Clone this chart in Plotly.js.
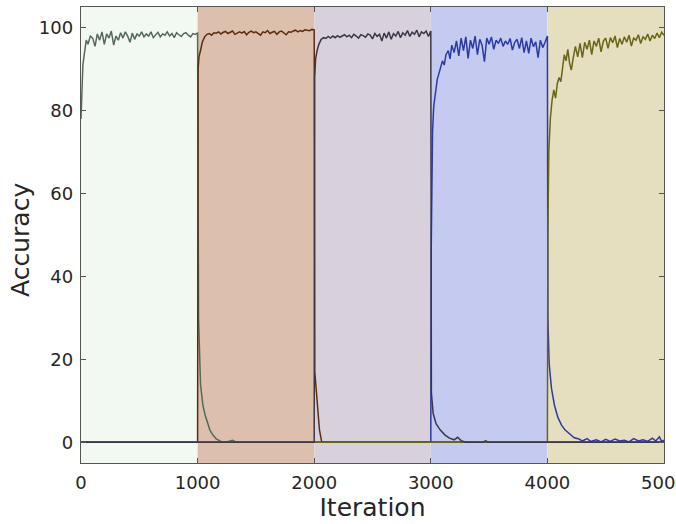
<!DOCTYPE html>
<html>
<head>
<meta charset="utf-8">
<script src="https://cdn.plot.ly/plotly-3.0.1.min.js"></script>
<style>html,body{margin:0;padding:0;background:#fff;overflow:hidden}#chart{width:676px;height:524px}</style>
</head>
<body>
<div id="chart"></div>
<script>
// Task boundaries (iterations) and tick labels
const taskBoundaries = [0, 1000, 2000, 3000, 4000, 5000];
const xTickVals = [0, 1000, 2000, 3000, 4000, 5000];
const xTickText = ['0', '1000', '2000', '3000', '4000', '5000'];
const yTickVals = [0, 20, 40, 60, 80, 100];
const yTickText = ['0', '20', '40', '60', '80', '100'];

// Accuracy of each task over iterations: [iteration, accuracy]
const task1 = [[0,78],[8,86],[16,91],[30,94],[45,97],[60,96],[80,98],[100,97.5],[120,95.5],[140,98.5],[160,97],[180,99],[200,96],[220,98.5],[240,97.5],[260,99.2],[280,95.8],[300,98],[320,97],[340,98.8],[360,97.5],[380,99],[400,98],[420,96.5],[440,98.7],[460,97.2],[480,98.5],[500,98],[520,99],[540,97.8],[560,98.5],[580,98],[600,99],[620,97.6],[640,98.4],[660,98.9],[680,97.8],[700,98.5],[720,98.2],[740,99],[760,98],[780,98.6],[800,97.6],[820,98.8],[840,98.3],[860,97.9],[880,98.6],[900,98.8],[920,98.2],[940,97.8],[960,98.6],[980,98.4],[1000,98.7],[1008,30],[1025,14],[1045,9],[1065,6.5],[1085,4.5],[1105,3],[1130,1.8],[1160,0.8],[1200,0.2],[1240,0],[1300,0.5],[1330,0],[5000,0]];
const task2 = [[0,0],[1000,0],[1004,90],[1012,93],[1025,94.5],[1040,96.5],[1060,97.8],[1080,98.4],[1100,98.6],[1120,98.2],[1140,98.8],[1160,98.7],[1180,99],[1200,98.5],[1220,98.9],[1240,99.1],[1260,98.6],[1280,98.9],[1300,99.2],[1320,98.4],[1340,98.8],[1360,99],[1380,98.7],[1400,99.1],[1420,98.3],[1440,98.9],[1460,99.2],[1480,98.8],[1500,99],[1520,98.5],[1540,98.2],[1560,99],[1580,98.8],[1600,99.3],[1620,98.6],[1640,98.9],[1660,99.1],[1680,98.4],[1700,99],[1720,99.2],[1740,98.7],[1760,98.3],[1780,99],[1800,98.9],[1820,99.2],[1840,99.4],[1860,99],[1880,99.3],[1900,99.1],[1920,99.5],[1940,99.4],[1960,99.3],[1980,99.6],[2000,99.5],[2005,17],[2025,9],[2045,3],[2065,0],[5000,0]];
const task3 = [[0,0],[2000,0],[2004,88],[2012,92.5],[2025,94.5],[2040,96],[2060,97.2],[2080,97.6],[2100,97.4],[2120,97.9],[2140,97.5],[2160,98],[2180,97.6],[2200,98.1],[2220,97.7],[2240,98],[2260,98.3],[2280,97.8],[2300,98.2],[2320,97.6],[2340,98.4],[2360,98],[2380,97.5],[2400,98.3],[2420,98.1],[2440,97.7],[2460,98.5],[2480,98.2],[2500,97.3],[2520,98.6],[2540,97.9],[2560,98.4],[2580,96.8],[2600,98.7],[2620,97.5],[2640,99],[2660,97.2],[2680,98.6],[2700,98],[2720,99.1],[2740,97.6],[2760,98.8],[2780,98.2],[2800,99.3],[2820,97.9],[2840,98.9],[2860,98.4],[2880,99.4],[2900,97.8],[2920,99],[2940,98.6],[2960,99.2],[2980,97.9],[3000,99.2],[3005,12],[3020,7],[3045,4.5],[3080,3],[3120,1.8],[3160,1],[3200,0.6],[3230,1.2],[3260,0.4],[3300,0],[3450,0],[3470,0.4],[3490,0],[5000,0]];
const task4 = [[0,0],[3000,0],[3003,45],[3008,65],[3015,75],[3025,81],[3040,85],[3055,87.5],[3070,89],[3085,90.5],[3100,92],[3115,91],[3130,93.5],[3150,94.5],[3165,92.5],[3180,95.8],[3200,94],[3220,96.8],[3240,93.2],[3260,97.5],[3280,94.5],[3300,97.8],[3320,92.6],[3340,97],[3360,95],[3380,98],[3400,93.5],[3420,97.2],[3440,95.8],[3460,91.8],[3480,97.5],[3500,96],[3520,97.8],[3540,94.8],[3560,97],[3580,96.2],[3600,97.5],[3620,95.5],[3640,96.8],[3660,96],[3680,97.4],[3700,94.6],[3720,96.5],[3740,97.2],[3760,95],[3780,97.6],[3800,94],[3820,96.8],[3840,93.8],[3860,97.5],[3880,95.4],[3900,96.6],[3920,92.8],[3940,97],[3960,95.2],[3980,96.5],[4000,98],[4004,30],[4015,19],[4035,13],[4060,9],[4090,6],[4120,4.2],[4150,3],[4190,2],[4230,1.1],[4270,0.8],[4300,0.3],[4340,0.9],[4370,0.2],[4420,0.6],[4460,0.1],[4500,0.7],[4540,0.2],[4580,0.8],[4620,0.3],[4660,0.5],[4700,0.1],[4740,0.9],[4780,0.3],[4820,0.6],[4860,0.2],[4900,1.0],[4930,0.3],[4960,1.3],[4980,0.2],[5000,0.5]];
const task5 = [[0,0],[4000,0],[4004,50],[4012,70],[4025,78],[4040,82.5],[4055,85],[4070,83],[4085,86.5],[4100,88],[4115,87],[4130,91],[4145,93.5],[4160,92],[4175,94.8],[4190,91.5],[4205,89.8],[4220,92.5],[4240,95.5],[4260,93],[4280,96.2],[4300,92.8],[4320,96.5],[4340,94.8],[4360,97],[4380,93.5],[4400,96.8],[4420,95.5],[4440,97.5],[4460,94.2],[4480,96.8],[4500,97.5],[4520,95],[4540,97.6],[4560,96.4],[4580,98],[4600,95.2],[4620,97.4],[4640,96],[4660,97.8],[4680,96.5],[4700,98.2],[4720,95.6],[4740,97.5],[4760,97],[4780,98.3],[4800,96.2],[4820,97.8],[4840,97.2],[4860,98.5],[4880,96.8],[4900,98.2],[4920,97.4],[4940,98.7],[4960,97.6],[4980,98.9],[5000,98.2]];

const tasks = [task1, task2, task3, task4, task5];
const lineColors = ['#55695a', '#5c2c10', '#3b3747', '#2c3aa6', '#676618'];
const bandColors = ['#f2f9f3', '#dcbfad', '#d8d1db', '#c5cbf0', '#e6dfbf'];
// drawing order: the dark grey task last so the shared zero line reads dark grey
const drawOrder = [0, 1, 3, 4, 2];

const traces = drawOrder.map(i => ({
  type: 'scatter',
  mode: 'lines',
  x: tasks[i].map(p => p[0]),
  y: tasks[i].map(p => p[1]),
  line: {color: lineColors[i], width: 1.5},
  hoverinfo: 'skip',
  showlegend: false
}));

const shapes = bandColors.map((c, i) => ({
  type: 'rect', xref: 'x', yref: 'paper', layer: 'below',
  x0: taskBoundaries[i], x1: taskBoundaries[i + 1], y0: 0, y1: 1,
  fillcolor: c, line: {width: 0}
}));

const font = {family: 'DejaVu Sans, sans-serif', color: '#262626'};

const layout = {
  width: 676, height: 524,
  margin: {l: 81, r: 12, t: 7, b: 61},
  paper_bgcolor: '#ffffff',
  plot_bgcolor: '#ffffff',
  showlegend: false,
  font: font,
  shapes: shapes,
  xaxis: {
    range: [0, 5000], tickvals: xTickVals, ticktext: xTickText,
    ticks: 'inside', ticklen: 5, tickcolor: '#555', mirror: 'ticks',
    showline: true, linecolor: '#555', linewidth: 1.2,
    showgrid: false, zeroline: false,
    tickfont: {family: font.family, size: 18, color: '#262626'},
    ticklabelstandoff: 3,
    ticklabeloverflow: 'allow',
    title: {text: 'Iteration', font: {family: font.family, size: 25, color: '#262626'}, standoff: 6},
    automargin: false
  },
  yaxis: {
    range: [-5, 105], tickvals: yTickVals, ticktext: yTickText,
    ticks: 'inside', ticklen: 5, tickcolor: '#555', mirror: 'ticks',
    showline: true, linecolor: '#555', linewidth: 1.2,
    showgrid: false, zeroline: false,
    tickfont: {family: font.family, size: 18, color: '#262626'},
    ticklabelstandoff: 3,
    automargin: false
  },
  annotations: [{
    text: 'Accuracy', xref: 'paper', yref: 'paper',
    x: -0.104, y: 0.49, xanchor: 'center', yanchor: 'middle',
    textangle: -90, showarrow: false,
    font: {family: font.family, size: 25, color: '#262626'}
  }]
};

Plotly.newPlot('chart', traces, layout, {staticPlot: true, displayModeBar: false});
</script>
</body>
</html>
